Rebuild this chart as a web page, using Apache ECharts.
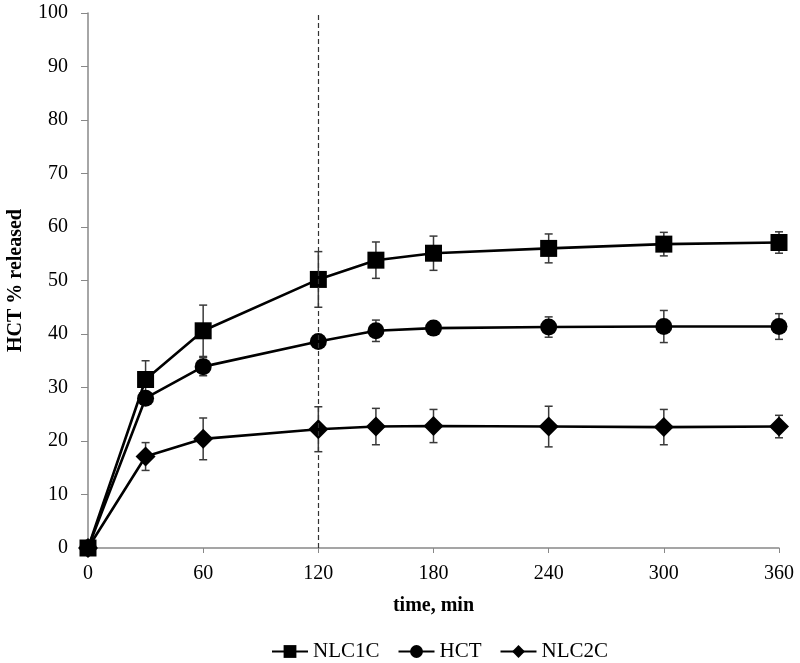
<!DOCTYPE html>
<html>
<head>
<meta charset="utf-8">
<script src="https://cdn.jsdelivr.net/npm/echarts@6/dist/echarts.min.js"></script>
<style>html,body{margin:0;padding:0;background:#fff}#c{width:800px;height:663px}</style>
</head>
<body>
<div id="c"></div>
<script>
const times = [0, 30, 60, 120, 150, 180, 240, 300, 360];
const xTicks = [0, 60, 120, 180, 240, 300, 360];
const nlc1c = [0, 31.5, 40.6, 50.2, 53.8, 55.1, 56.0, 56.8, 57.1];
const nlc1cErr = [0, 3.5, 4.8, 5.2, 3.4, 3.2, 2.7, 2.2, 2.0];
const hct = [0, 28.0, 33.9, 38.6, 40.6, 41.1, 41.3, 41.4, 41.4];
const hctErr = [0, 1.0, 1.7, 1.0, 2.0, 0.5, 1.9, 3.0, 2.4];
const nlc2c = [0, 17.1, 20.4, 22.2, 22.7, 22.8, 22.7, 22.6, 22.7];
const nlc2cErr = [0, 2.6, 3.9, 4.2, 3.4, 3.1, 3.8, 3.3, 2.1];
const markTime = 120;

const FONT = '"Liberation Serif", "Times New Roman", serif';

function pts(vals){ return times.map((t,i)=>[t, vals[i]]); }
function errs(vals, e){ return times.map((t,i)=>[t, vals[i]-e[i], vals[i]+e[i]]); }

function errRender(params, api){
  const x = api.value(0);
  const top = api.coord([x, api.value(2)]);
  const bot = api.coord([x, api.value(1)]);
  const w = 4;
  const style = {stroke:'#3a3a3a', lineWidth:1.5, fill:null};
  return {type:'group', children:[
    {type:'line', shape:{x1:top[0],y1:top[1],x2:bot[0],y2:bot[1]}, style},
    {type:'line', shape:{x1:top[0]-w,y1:top[1],x2:top[0]+w,y2:top[1]}, style},
    {type:'line', shape:{x1:bot[0]-w,y1:bot[1],x2:bot[0]+w,y2:bot[1]}, style}
  ]};
}

const chart = echarts.init(document.getElementById('c'), null, {renderer:'canvas'});
const lineStyle = {color:'#000', width:2.6};
chart.setOption({
  animation:false,
  backgroundColor:'#fff',
  grid:{left:88, right:21, top:13, bottom:115, containLabel:false, outerBoundsMode:'none'},
  legend:{
    data:['NLC1C','HCT','NLC2C'],
    top:636, left:266,
    itemWidth:36, itemHeight:16, itemGap:18,
    textStyle:{fontFamily:FONT, fontSize:21, color:'#000'}
  },
  xAxis:{
    type:'value', min:0, max:360, interval:60,
    name:'time, min', nameLocation:'middle', nameGap:48,
    nameTextStyle:{fontFamily:FONT, fontSize:20, fontWeight:'bold', color:'#000'},
    axisLine:{lineStyle:{color:'#888', width:1.5}},
    axisTick:{show:true, length:5, lineStyle:{color:'#888'}},
    axisLabel:{fontFamily:FONT, fontSize:20, color:'#000', margin:16,
      formatter:v=>xTicks.includes(v)?String(v):''},
    splitLine:{show:false}
  },
  yAxis:{
    type:'value', min:0, max:100, interval:10,
    name:'HCT % released', nameLocation:'middle', nameGap:62,
    nameTextStyle:{fontFamily:FONT, fontSize:20, fontWeight:'bold', color:'#000'},
    axisLine:{show:true, lineStyle:{color:'#888', width:1.5}},
    axisTick:{show:true, length:7, lineStyle:{color:'#888'}},
    axisLabel:{fontFamily:FONT, fontSize:20, color:'#000', margin:20},
    splitLine:{show:false}
  },
  series:[
    {type:'custom', name:'e1', renderItem:errRender, data:errs(nlc1c,nlc1cErr), z:1, silent:true},
    {type:'custom', name:'e2', renderItem:errRender, data:errs(hct,hctErr), z:1, silent:true},
    {type:'custom', name:'e3', renderItem:errRender, data:errs(nlc2c,nlc2cErr), z:1, silent:true},
    {type:'line', name:'NLC1C', data:pts(nlc1c), symbol:'rect', symbolSize:17,
      itemStyle:{color:'#000'}, lineStyle, z:3,
      markLine:{silent:true, symbol:'none', label:{show:false},
        lineStyle:{color:'#333', type:[5,3], width:1.2},
        data:[{xAxis:markTime}]}},
    {type:'line', name:'HCT', data:pts(hct), symbol:'circle', symbolSize:17,
      itemStyle:{color:'#000'}, lineStyle, z:3},
    {type:'line', name:'NLC2C', data:pts(nlc2c), symbol:'diamond', symbolSize:20,
      itemStyle:{color:'#000'}, lineStyle, z:3}
  ]
});
</script>
</body>
</html>
